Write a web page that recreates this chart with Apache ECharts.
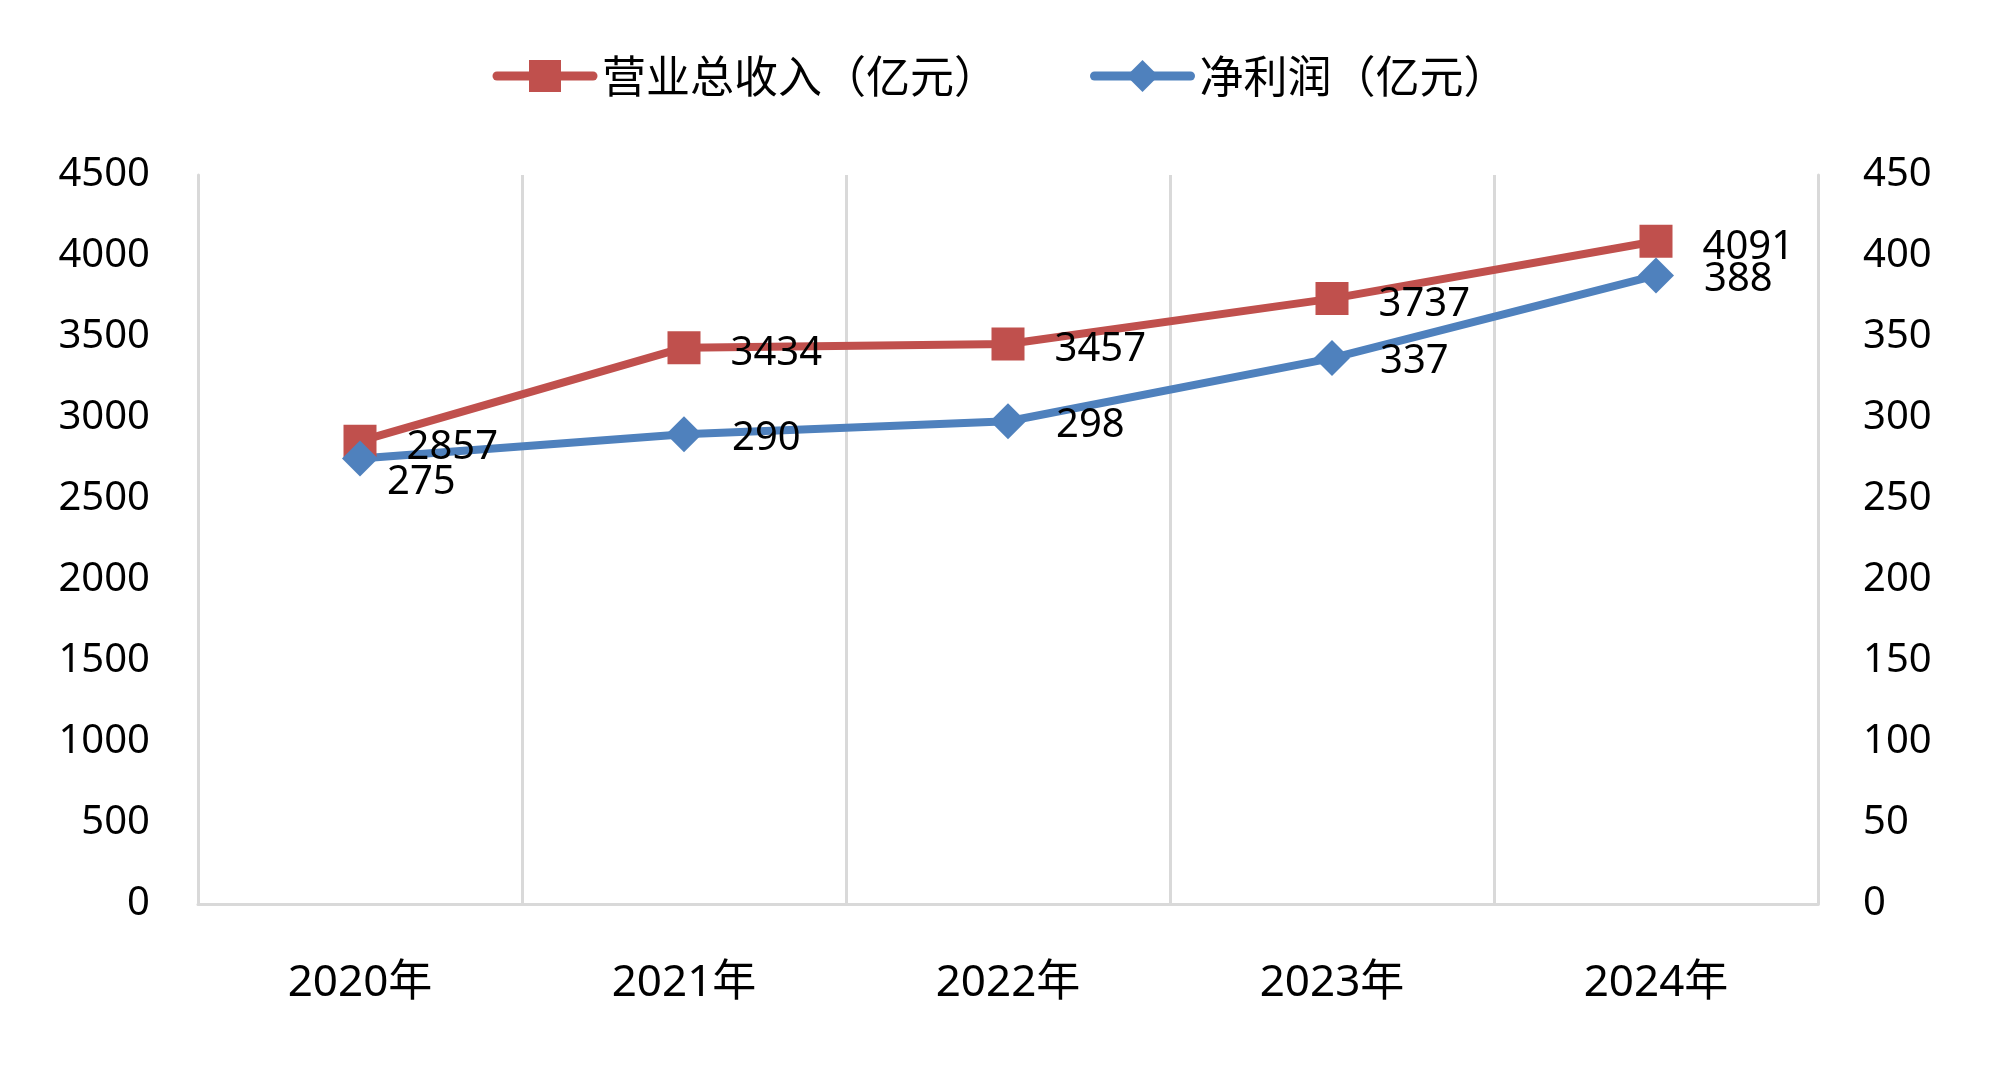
<!DOCTYPE html>
<html><head><meta charset="utf-8">
<script src="https://cdn.jsdelivr.net/npm/echarts@6/dist/echarts.min.js"></script>
<style>html,body{margin:0;padding:0;background:#fff}#c{width:2000px;height:1075px}</style>
</head><body><div id="c"></div>
<script>
const years = ['2020年', '2021年', '2022年', '2023年', '2024年'];
const revenue = [2857, 3434, 3457, 3737, 4091];
const netProfit = [275, 290, 298, 337, 388];
const revenueName = '营业总收入（亿元）';
const profitName = '净利润（亿元）';
const leftAxisMax = 4500, leftAxisStep = 500;
const rightAxisMax = 450, rightAxisStep = 50;

const FONT = '"Noto Sans", "Noto Sans CJK SC", sans-serif';
const RED = '#C0504D', BLUE = '#4F81BD', GRID = '#D9D9D9';

const chart = echarts.init(document.getElementById('c'), null, {renderer: 'canvas'});

const profitData = netProfit.map((v, i) => i === 0
  ? {value: v, label: {offset: [-21, 24]}}
  : v);

chart.setOption({
  animation: false,
  backgroundColor: '#fff',
  textStyle: {fontFamily: FONT, color: '#000'},
  legend: {
    left: 'center', top: 49,
    itemWidth: 96, itemHeight: 40, itemGap: 92,
    textStyle: {fontSize: 44, fontFamily: '"Noto Sans CJK SC", sans-serif', color: '#000', padding: [0, 0, 0, 4]},
    data: [
      {name: revenueName, lineStyle: {width: 9, cap: 'round'}},
      {name: profitName, lineStyle: {width: 9, cap: 'round'}}
    ]
  },
  grid: {left: 198, right: 182, top: 175, bottom: 171, containLabel: false},
  xAxis: {
    type: 'category', data: years, boundaryGap: true,
    axisLine: {show: true, lineStyle: {color: GRID, width: 3}},
    axisTick: {show: false},
    splitLine: {show: true, lineStyle: {color: GRID, width: 3}},
    axisLabel: {fontSize: 44, color: '#000', margin: 57, fontFamily: FONT}
  },
  yAxis: [{
    type: 'value', min: 0, max: leftAxisMax, interval: leftAxisStep,
    axisLine: {show: true, lineStyle: {color: GRID, width: 3}},
    axisTick: {show: false}, splitLine: {show: false},
    axisLabel: {fontSize: 40, color: '#000', margin: 48, fontFamily: FONT, formatter: v => String(v)}
  }, {
    type: 'value', min: 0, max: rightAxisMax, interval: rightAxisStep, position: 'right',
    axisLine: {show: true, lineStyle: {color: GRID, width: 3}},
    axisTick: {show: false}, splitLine: {show: false},
    axisLabel: {fontSize: 40, color: '#000', margin: 45, fontFamily: FONT, formatter: v => String(v)}
  }],
  series: [{
    name: revenueName, type: 'line', yAxisIndex: 0, data: revenue,
    symbol: 'rect', symbolSize: 33,
    lineStyle: {color: RED, width: 8}, itemStyle: {color: RED},
    label: {show: true, position: 'right', distance: 30, offset: [0, 6], fontSize: 40, color: '#000', fontFamily: FONT},
    z: 2
  }, {
    name: profitName, type: 'line', yAxisIndex: 1, data: profitData,
    symbol: 'diamond', symbolSize: 36,
    lineStyle: {color: BLUE, width: 8}, itemStyle: {color: BLUE},
    label: {show: true, position: 'right', distance: 30, offset: [0, 4], fontSize: 40, color: '#000', fontFamily: FONT},
    z: 2
  }]
});
</script></body></html>
